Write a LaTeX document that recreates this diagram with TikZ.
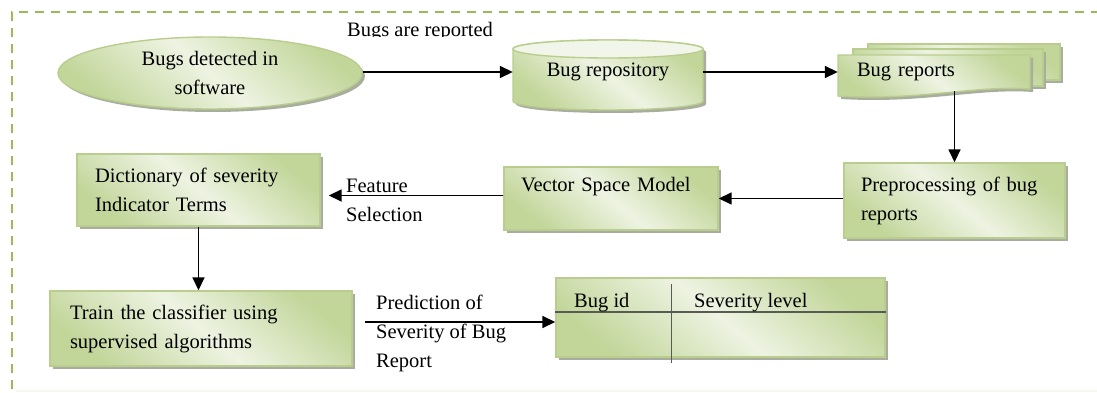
\documentclass[tikz,border=0pt]{standalone}
\usepackage{fontspec}
\setmainfont{Liberation Serif}
\usetikzlibrary{arrows.meta,shapes.geometric,shadows,calc}

\definecolor{framegreen}{HTML}{9BBB59}
\definecolor{gdark}{HTML}{C2D69A}
\definecolor{glight}{HTML}{EEF3E2}
\definecolor{capgreen}{HTML}{F1F5EA}
\definecolor{edgegreen}{HTML}{B9CE8E}
\definecolor{shadowgray}{HTML}{A9AD9D}
\definecolor{tabgray}{HTML}{5A5A55}

\newcommand{\diagfont}{\fontsize{20.5}{29}\selectfont}

\tikzset{
  borderdash/.style={draw=framegreen, line width=2.2pt, dash pattern=on 9pt off 7pt},
  greenfill/.style={shading=axis, top color=gdark, bottom color=gdark,
    middle color=glight, shading angle=-40},
  shadowed/.style={drop shadow={shadow xshift=3pt, shadow yshift=-3pt,
    fill=shadowgray, opacity=1}},
  greenline/.style={draw=edgegreen, line width=1.4pt},
  box/.style={rectangle, greenline, greenfill, shadowed, font=\diagfont,
    align=left, inner ysep=0pt},
  lbl/.style={font=\diagfont, align=left, inner sep=0pt},
  arr/.style={draw=black, line width=1.6pt, -{Triangle[length=13pt,width=12pt]}},
  tabline/.style={draw=tabgray, line width=1.2pt},
}

\begin{document}
\begin{tikzpicture}[x=1pt,y=-1pt]
\useasboundingbox (0,0) rectangle (1097,393);

% dashed surrounding frame
\draw[borderdash] (12,405) -- (12,12) -- (1110,12);
\draw[draw=framegreen!10, line width=1.5pt] (16,391) -- (1097,391);

% start: detected bugs
\node[ellipse, greenline, greenfill, shadowed, minimum width=304pt,
  minimum height=72pt, font=\diagfont, align=center, inner sep=0pt]
  (detect) at (210,73) {Bugs detected in\\software};

\begin{scope}
  \clip (330,0) rectangle (510,37);
  \node[lbl, anchor=base west] (reported) at (347,36.5) {Bugs are reported};
\end{scope}

% repository drawn as a cylinder
\path[greenfill, shadowed, greenline]
  (513,49) -- (513,101) arc[start angle=180, end angle=360, x radius=95pt, y radius=9pt]
  -- (703,49) arc[start angle=0, end angle=180, x radius=95pt, y radius=9pt] -- cycle;
\path[fill=capgreen, greenline] (608,49) ellipse[x radius=95pt, y radius=9pt];
\node[font=\diagfont, minimum width=190pt, minimum height=52pt, inner sep=0pt]
  (repo) at (608,72) {Bug repository};

% stack of bug reports
\path[greenfill, shadowed, greenline] (868,44) rectangle (1060,80);
\path[greenfill, shadowed, greenline] (853,49) rectangle (1043,86);
\path[greenfill, shadowed, greenline] (838,55) -- (1030,55) -- (1030,89)
  .. controls (975,85) and (920,101) .. (838,96) -- cycle;
\node[font=\diagfont, minimum width=192pt, minimum height=42pt, text width=154pt,
  align=left, inner xsep=19pt, inner ysep=0pt] (reports) at (934,72) {Bug reports};

% processing steps
\node[box, minimum width=221pt, minimum height=75pt, text width=187pt,
  inner xsep=17pt] (prep) at (954.5,200.5) {Preprocessing of bug\\reports};
\node[box, minimum width=214pt, minimum height=63pt, text width=180pt,
  inner xsep=17pt] (vsm) at (611,198.5) {Vector Space Model\\\mbox{}};
\node[box, minimum width=243pt, minimum height=72pt, text width=207pt,
  inner xsep=18pt] (dict) at (198.5,190) {Dictionary of severity\\Indicator Terms};
\node[box, minimum width=302pt, minimum height=75pt, text width=262pt,
  inner xsep=20pt] (train) at (201,328.5) {Train the classifier using\\supervised algorithms};

% result table
\node[box, minimum width=329pt, minimum height=79pt] (tbl) at (720.5,317.5) {};
\draw[tabline] (tbl.west |- 0,312) -- (tbl.east |- 0,312);
\draw[tabline] ($(tbl.north west)+(116,7)$) -- ++(0,79);
\node[lbl, anchor=base west] (bugid) at (574,307) {Bug id};
\node[lbl, anchor=base west] (sevlvl) at (694,307) {Severity level};

% connectors
\draw[arr] ([yshift=1pt]detect.east) -- ([yshift=1pt]detect.east -| repo.west);
\draw[arr] (repo.east) -- (reports.west);
\draw[arr] ([yshift=2pt]prep.north |- reports.south) -- (prep.north);
\draw[arr] ([yshift=2pt]prep.west) -- ([yshift=2pt]prep.west -| vsm.east);
\draw[arr, shorten >=8pt] ([yshift=3pt]vsm.west) -- ([yshift=3pt]vsm.west -| dict.east);
\node[lbl, anchor=north west] (feat) at (346,178.5) {Feature\\Selection};
\draw[arr] (dict.south) -- (dict.south |- train.north);
\coordinate (predstart) at ([xshift=12pt,yshift=6.5pt]train.east);
\draw[arr] (predstart) -- (predstart -| tbl.west);
\node[lbl, anchor=north west] (pred) at (376,294.5) {Prediction of\\Severity of Bug\\Report};
\end{tikzpicture}
\end{document}
